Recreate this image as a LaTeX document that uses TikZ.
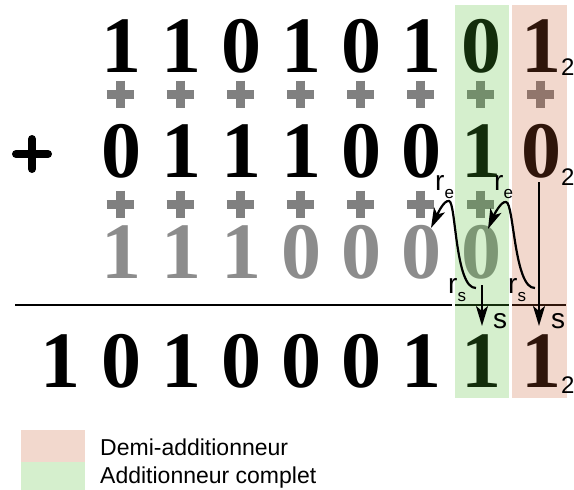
\documentclass[tikz,border=0pt]{standalone}
\usepackage{fontspec}
\setmainfont{Liberation Serif}
\setsansfont{Liberation Sans}
\usepackage{xcolor}
\usetikzlibrary{arrows.meta}
\definecolor{halfred}{RGB}{200,90,45}
\definecolor{fullgreen}{RGB}{80,190,48}
\definecolor{carrygray}{HTML}{8C8C8C}
\definecolor{plusgray}{HTML}{808080}
\newcommand{\indice}[1]{\raisebox{-8pt}{\fontsize{17}{17}\selectfont #1}}

\begin{document}
\begin{tikzpicture}[x=1pt,y=-1pt]
        % Définition des styles
        \tikzset{
            digit/.style={anchor=base, inner sep=0pt, font=\fontsize{80}{80}\selectfont\bfseries},
            carry/.style={digit, text=carrygray},
            radix/.style={anchor=base west, inner sep=0pt, font=\sffamily\fontsize{24}{24}\selectfont},
            lbl/.style={anchor=base west, inner sep=0pt, font=\sffamily\fontsize{28}{28}\selectfont},
            legendtext/.style={anchor=base west, inner sep=0pt, font=\sffamily\fontsize{23}{23}\selectfont},
            gplus/.style={draw=plusgray, line width=9pt},
            band/.style={draw=white, line width=3pt, fill opacity=0.24},
            arrow/.style={-{Stealth[length=20pt,width=12pt,inset=5pt]}, line width=2.2pt}
        }
        \useasboundingbox (0,0) rectangle (574,490);

        % Les deux nombres
        \foreach \d [count=\i] in {1,1,0,1,0,1,0,1}
            \node[digit] (a\i) at (61+60.1*\i,72) {\d};
        \foreach \d [count=\i] in {0,1,1,1,0,0,1,0}
            \node[digit] (b\i) at (61+60.1*\i,177) {\d};

        % Retenues
        \foreach \d [count=\i] in {1,1,1,0,0,0,0}
            \node[carry] (r\i) at (61+60.1*\i,278) {\d};

        % Résultat
        \foreach \d [count=\i from 0] in {1,0,1,0,0,0,1,1,1}
            \node[digit] (s\i) at (61+60.1*\i,387) {\d};

        % Signes plus
        \foreach \i in {1,...,8}
            \draw[gplus] (46.5+60.1*\i,94) -- ++(27,0) (60+60.1*\i,80.5) -- ++(0,27);
        \foreach \i in {1,...,7}
            \draw[gplus] (46.5+60.1*\i,204) -- ++(27,0) (60+60.1*\i,190.5) -- ++(0,27);
        \draw[line width=8pt, line cap=round] (16,154) -- (48,154) (32,139) -- (32,169);

        % Trait du résultat
        \draw[line width=2.5pt] (15,305) -- (566,305);

        % Additionneurs
        \filldraw[band, fill=fullgreen] (453.5,3.5) rectangle (510.5,399.5);
        \filldraw[band, fill=halfred] (510.5,3.5) rectangle (568.5,399.5);

        % Base 2
        \node[radix] (n1) at (561,75) {2};
        \node[radix] (n2) at (561,185) {2};
        \node[radix] (n3) at (561,393) {2};

        % Annotations
        \node[lbl] (re1) at (435,190) {r\indice{e}};
        \node[lbl] (re2) at (494,190) {r\indice{e}};
        \node[lbl] (rs1) at (448,293) {r\indice{s}};
        \node[lbl] (rs2) at (508,293) {r\indice{s}};
        \node[lbl] (so1) at (493,328) {s};
        \node[lbl] (so2) at (551,328) {s};

        % Connexions
        \coordinate (out1) at (476,288);
        \coordinate (in1) at (431,228);
        \coordinate (out2) at (535,288);
        \coordinate (in2) at (488,229);
        \coordinate (top1) at (482,285);
        \coordinate (bot1) at (482,326);
        \coordinate (top2) at (539,182);
        \coordinate (bot2) at (539,326);
        \draw[arrow] (out1) .. controls (455,289) and (456,201) .. (449,201)
            .. controls (444,200) and (438,213) .. (in1);
        \draw[arrow] (out2) .. controls (514,289) and (514,202) .. (506,202)
            .. controls (501,201) and (494,215) .. (in2);
        \draw[arrow] (top1) -- (bot1);
        \draw[arrow] (top2) -- (bot2);

        % Légende
        \fill[halfred, fill opacity=0.24] (21,430) rectangle (85,462);
        \fill[fullgreen, fill opacity=0.24] (21,462) rectangle (85,490);
        \node[legendtext] (demi) at (100,455) {Demi-additionneur};
        \node[legendtext] (complet) at (100,483) {Additionneur complet};
    \end{tikzpicture}
\end{document}
